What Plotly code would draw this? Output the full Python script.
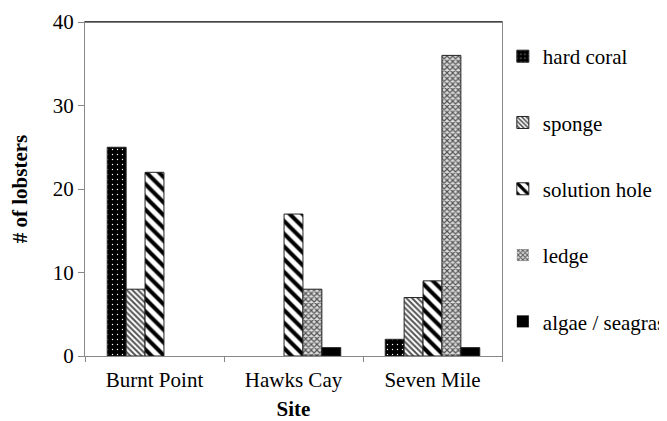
import plotly.graph_objects as go

sites = ["Burnt Point", "Hawks Cay", "Seven Mile"]
series_names = ["hard coral", "sponge", "solution hole", "ledge", "algae / seagrass"]
hard_coral = [25, 0, 2]
sponge = [8, 0, 7]
solution_hole = [22, 17, 9]
ledge = [0, 8, 36]
algae = [0, 1, 1]
y_ticks = [0, 10, 20, 30, 40]

values = [hard_coral, sponge, solution_hole, ledge, algae]
styles = [
    dict(shape=".", bgcolor="black", fgcolor="white", size=5, solidity=0.06, fillmode="replace"),
    dict(shape="\\", bgcolor="white", fgcolor="#555555", size=4, solidity=0.5, fillmode="replace"),
    dict(shape="\\", bgcolor="white", fgcolor="black", size=9, solidity=0.45, fillmode="replace"),
    dict(shape="x", bgcolor="#dddddd", fgcolor="#555555", size=4, solidity=0.5, fillmode="replace"),
    None,
]

font = "Times New Roman, Liberation Serif, DejaVu Serif, serif"
fig = go.Figure()
for name, vals, st in zip(series_names, values, styles):
    widths = [1 if v > 0 else 0 for v in vals]
    marker = dict(color="black", line=dict(color="#222222", width=widths))
    if st is not None:
        marker["pattern"] = st
    fig.add_trace(go.Bar(x=sites, y=vals, name=name, marker=marker, legendgroup=name))

fig.update_layout(
    width=667, height=421,
    margin=dict(l=77, r=173, t=14, b=73, autoexpand=False),
    paper_bgcolor="white", plot_bgcolor="white",
    barmode="group", bargap=0.32, bargroupgap=0,
    font=dict(family=font, size=21, color="black"),
    showlegend=True,
    legend=dict(x=1.002, y=0.958, xanchor="left", yanchor="top",
                font=dict(family=font, size=21), tracegroupgap=36,
                itemwidth=30, bgcolor="rgba(0,0,0,0)"),
    xaxis=dict(title=dict(text="<b>Site</b>", font=dict(size=21), standoff=10),
               tickson="boundaries", ticks="outside", ticklen=5, tickcolor="#888",
               ticklabelstandoff=5,
               showline=True, linecolor="#888", linewidth=1, mirror=True,
               showgrid=False),
    yaxis=dict(title=dict(text="<b># of lobsters</b>", font=dict(size=21), standoff=26),
               range=[0, 40], tickvals=y_ticks, ticks="outside", ticklen=6, tickcolor="#888",
               showline=True, linecolor="#888", linewidth=1, mirror=True,
               showgrid=False, zeroline=False),
)
fig.add_shape(type="line", xref="paper", yref="paper", x0=0, x1=1, y0=1, y1=1,
              line=dict(color="black", width=1))
fig.write_html("out.html")
